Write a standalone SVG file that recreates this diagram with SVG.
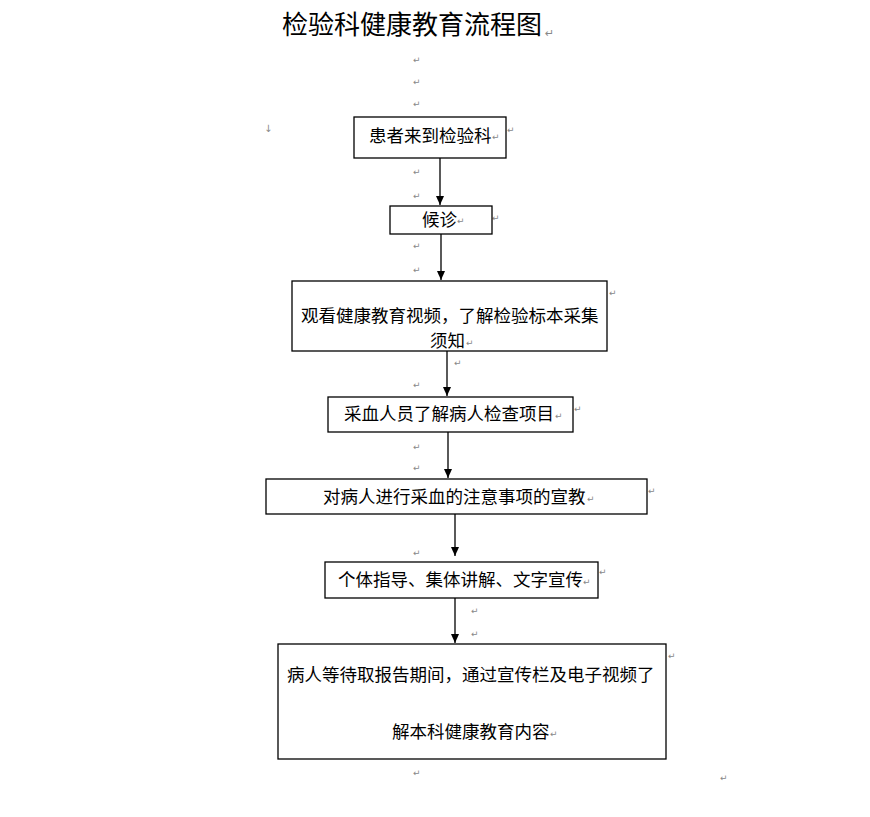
<svg xmlns="http://www.w3.org/2000/svg" width="870" height="817" viewBox="0 0 870 817">
<defs>
<style>
.box{fill:#fff;stroke:#000;stroke-width:1.3}
.t{font-family:"Noto Sans CJK SC","Noto Sans CJK JP",sans-serif;font-size:17.5px;fill:#000}
.title{font-family:"Noto Sans CJK SC","Noto Sans CJK JP",sans-serif;font-size:26px;fill:#000}
.pm{font-family:"DejaVu Sans",sans-serif;font-size:9px;fill:#888}
.c{stroke:#000;stroke-width:1.3;fill:none}
</style>
<marker id="ah" markerWidth="10" markerHeight="10" refX="9" refY="4" orient="auto" markerUnits="userSpaceOnUse">
<path d="M0,0 L9,4 L0,8 Z" fill="#000"/>
</marker>
</defs>
<rect width="870" height="817" fill="#fff"/>
<g id="title"><text class="title" x="282" y="34">检验科健康教育流程图</text></g>
<g id="marks">
<text class="pm" x="545" y="37" style="font-size:11px">↵</text>
<text class="pm" x="413" y="63">↵</text>
<text class="pm" x="413" y="85">↵</text>
<text class="pm" x="413" y="107">↵</text>
<text class="pm" x="264" y="132" style="font-size:10px">↓</text>
<text class="pm" x="507" y="133">↵</text>
<text class="pm" x="413" y="175">↵</text>
<text class="pm" x="413" y="199">↵</text>
<text class="pm" x="492" y="221">↵</text>
<text class="pm" x="413" y="249">↵</text>
<text class="pm" x="413" y="273">↵</text>
<text class="pm" x="448" y="297">↵</text>
<text class="pm" x="609" y="296">↵</text>
<text class="pm" x="454" y="366">↵</text>
<text class="pm" x="413" y="388">↵</text>
<text class="pm" x="574" y="412">↵</text>
<text class="pm" x="413" y="450">↵</text>
<text class="pm" x="413" y="471">↵</text>
<text class="pm" x="648" y="494">↵</text>
<text class="pm" x="413" y="556">↵</text>
<text class="pm" x="599" y="575">↵</text>
<text class="pm" x="471" y="614">↵</text>
<text class="pm" x="471" y="637">↵</text>
<text class="pm" x="668" y="659">↵</text>
<text class="pm" x="413" y="776">↵</text>
<text class="pm" x="720" y="781">↵</text>
</g>
<g id="connectors">
<line class="c" x1="440" y1="158" x2="440" y2="205" marker-end="url(#ah)"/>
<line class="c" x1="441" y1="234" x2="441" y2="280" marker-end="url(#ah)"/>
<line class="c" x1="447" y1="351" x2="447" y2="396" marker-end="url(#ah)"/>
<line class="c" x1="448" y1="432" x2="448" y2="478" marker-end="url(#ah)"/>
<line class="c" x1="455" y1="514" x2="455" y2="556" marker-end="url(#ah)"/>
<line class="c" x1="455" y1="598" x2="455" y2="643" marker-end="url(#ah)"/>
</g>
<g id="n1"><rect class="box" x="354" y="117" width="152" height="41"/><text class="t" x="369" y="142">患者来到检验科</text><text class="pm" x="492" y="140">↵</text></g>
<g id="n2"><rect class="box" x="390" y="206" width="102" height="28"/><text class="t" x="422" y="226">候诊</text><text class="pm" x="457" y="224">↵</text></g>
<g id="n3"><rect class="box" x="292" y="281" width="315" height="70"/><text class="t" x="301" y="322">观看健康教育视频，了解检验标本采集</text><text class="t" x="430" y="347">须知</text><text class="pm" x="466" y="346">↵</text></g>
<g id="n4"><rect class="box" x="328" y="397" width="245" height="35"/><text class="t" x="344" y="420">采血人员了解病人检查项目</text><text class="pm" x="555" y="419">↵</text></g>
<g id="n5"><rect class="box" x="266" y="479" width="381" height="35"/><text class="t" x="323" y="503">对病人进行采血的注意事项的宣教</text><text class="pm" x="587" y="502">↵</text></g>
<g id="n6"><rect class="box" x="325" y="562" width="273" height="36"/><text class="t" x="338" y="586">个体指导、集体讲解、文字宣传</text><text class="pm" x="583" y="585">↵</text></g>
<g id="n7"><rect class="box" x="278" y="644" width="388" height="115"/><text class="t" x="287" y="681">病人等待取报告期间，通过宣传栏及电子视频了</text><text class="t" x="392" y="738">解本科健康教育内容</text><text class="pm" x="550" y="737">↵</text></g>
</svg>
